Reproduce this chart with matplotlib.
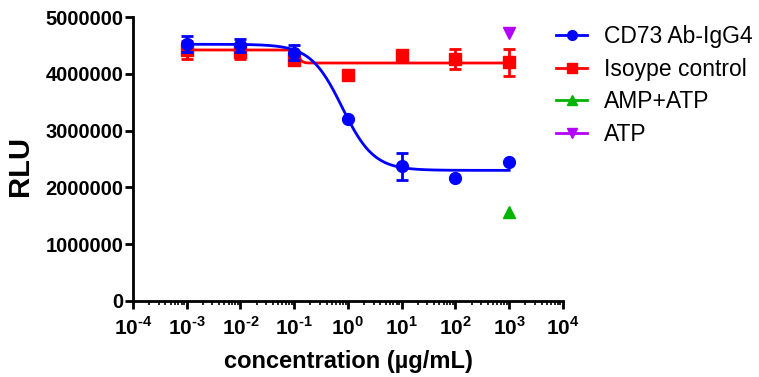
import numpy as np
import matplotlib
matplotlib.use("Agg")
import matplotlib.pyplot as plt
from matplotlib.ticker import LogLocator, NullFormatter, FuncFormatter

plt.rcParams['font.family'] = ['Liberation Sans', 'DejaVu Sans']
plt.rcParams['mathtext.fontset'] = 'custom'
plt.rcParams['mathtext.rm'] = 'Liberation Sans:bold'
plt.rcParams['mathtext.bf'] = 'Liberation Sans:bold'

# data
conc = [1e-3, 1e-2, 1e-1, 1, 10, 100, 1000]
cd73 = [4.52e6, 4.50e6, 4.37e6, 3.21e6, 2.37e6, 2.16e6, 2.44e6]
cd73_err = [0.14e6, 0.12e6, 0.13e6, 0, 0.24e6, 0, 0]
iso = [4.42e6, 4.38e6, 4.25e6, 3.98e6, 4.33e6, 4.26e6, 4.20e6]
iso_err = [0.16e6, 0.12e6, 0.10e6, 0.06e6, 0.06e6, 0.17e6, 0.245e6]
amp_atp_x, amp_atp_y = [1000], [1.56e6]
atp_x, atp_y = [1000], [4.71e6]

# 4PL fit parameters (top, bottom, EC50, hill)
cd73_fit = (4.52e6, 2.30e6, 0.78, 1.48)
iso_fit = (4.42e6, 4.19e6, 0.12, 12)

blue, red, green, purple = '#0000ff', '#ff0000', '#00b400', '#b400ff'


def four_pl(x, top, bottom, ec50, hill):
    return bottom + (top - bottom) / (1 + (x / ec50) ** hill)


def pow_label(v, pos):
    e = int(round(np.log10(v)))
    if e < 0:
        return r"$10^{\text{-}%d}$" % -e
    return r"$10^{%d}$" % e


xx = np.logspace(-3, 3, 400)

fig = plt.figure(figsize=(7.59, 3.77), dpi=100)
ax = fig.add_axes([0.1752, 0.2016, 0.5665, 0.7533])

ax.plot(xx, four_pl(xx, *iso_fit), color=red, lw=2, zorder=2)
ax.errorbar(conc, iso, yerr=iso_err, fmt='s', color=red, ms=8, capsize=4,
            elinewidth=2, capthick=2, zorder=3)
ax.plot(xx, four_pl(xx, *cd73_fit), color=blue, lw=2, zorder=4)
ax.errorbar(conc, cd73, yerr=cd73_err, fmt='o', color=blue, ms=8.5, capsize=4,
            elinewidth=2, capthick=2, zorder=5)
ax.plot(amp_atp_x, amp_atp_y, '^', color=green, ms=8, zorder=5)
ax.plot(atp_x, atp_y, 'v', color=purple, ms=8, zorder=5)

ax.set_xscale('log')
ax.set_xlim(1e-4, 1e4)
ax.set_ylim(0, 5e6)
ax.set_yticks(np.arange(0, 5e6 + 1, 1e6))
ax.yaxis.set_major_formatter(FuncFormatter(lambda v, p: f"{int(v)}"))
ax.xaxis.set_major_locator(LogLocator(base=10, numticks=20))
ax.xaxis.set_minor_locator(LogLocator(base=10, subs=np.arange(2, 10), numticks=20))
ax.xaxis.set_minor_formatter(NullFormatter())
ax.xaxis.set_major_formatter(FuncFormatter(pow_label))

for s in ['top', 'right']:
    ax.spines[s].set_visible(False)
for s in ['left', 'bottom']:
    ax.spines[s].set_linewidth(2)
ax.tick_params(which='major', width=2, length=6)
ax.tick_params(which='minor', width=1.2, length=3)
ax.tick_params(axis='y', labelsize=14.5, pad=1)
ax.tick_params(axis='x', labelsize=15, pad=5)
for lab in ax.get_yticklabels():
    lab.set_fontweight('bold')

ax.set_ylabel('RLU', fontsize=21, fontweight='bold')
ax.yaxis.set_label_coords(-0.230, 0.475)
ax.set_xlabel('concentration (µg/mL)', fontsize=17, fontweight='bold', labelpad=8)

handles = [
    plt.Line2D([], [], color=blue, marker='o', lw=2, ms=7),
    plt.Line2D([], [], color=red, marker='s', lw=2, ms=7),
    plt.Line2D([], [], color=green, marker='^', lw=2, ms=7),
    plt.Line2D([], [], color=purple, marker='v', lw=2, ms=7),
]
labels = ['CD73 Ab-IgG4', 'Isoype control', 'AMP+ATP', 'ATP']
fig.legend(handles, labels, loc='upper left', bbox_to_anchor=(0.7207, 0.958),
           borderaxespad=0, frameon=False, fontsize=16.5, handlelength=1.35,
           labelspacing=0.42, handletextpad=0.74)

fig.savefig('out.png', dpi=100)
